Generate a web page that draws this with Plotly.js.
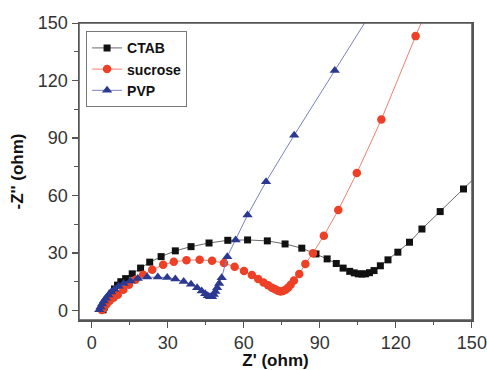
<!DOCTYPE html>
<html>
<head>
<meta charset="utf-8">
<script src="https://cdn.plot.ly/plotly-3.0.1.min.js"></script>
<style>html,body{margin:0;padding:0;background:#fff;}#chart{width:487px;height:370px;}</style>
</head>
<body>
<div id="chart"></div>
<script>
// CTAB series
const ctabX = [4.5, 5, 5.6, 6.3, 7.1, 8, 9, 10.2, 11.5, 13.4, 16, 19.3, 22.9, 27.4, 33, 39.2, 46.3, 53.7, 61.5, 69.3, 76.3, 82.9, 88.5, 92.9, 96.5, 99.2, 101.8, 103.6, 105.2, 106.6, 108, 109.6, 111.4, 113.9, 116.9, 120.8, 125.4, 130.3, 137.5, 146.7, 158];
const ctabY = [0.3, 1.8, 3.4, 5.1, 7, 9, 11.2, 13.2, 15, 16.6, 19.1, 22.1, 25.2, 28.1, 31.1, 33.3, 35.2, 36.6, 36.8, 36.3, 34.7, 32.5, 29.5, 26.9, 24.5, 22.1, 20.4, 19.6, 19.1, 19, 19.1, 19.7, 20.8, 23.3, 26.4, 30.4, 35.6, 42.5, 51.6, 63.4, 78];
// sucrose series
const sucX = [4, 4.6, 5.3, 6.1, 7.1, 8.6, 10.3, 12.5, 14.7, 17.3, 20.3, 23.9, 28.2, 32.4, 37.4, 42.6, 47.5, 52.2, 56.4, 60.1, 63.2, 65.7, 67.8, 69.6, 71.1, 72.4, 73.5, 74.5, 75.5, 76.5, 77.5, 78.5, 79.8, 81.9, 84.3, 87.3, 91.6, 97.3, 104.6, 114.3, 127.8, 146];
const sucY = [0.2, 1.3, 2.5, 3.7, 5, 6.6, 8.2, 10.8, 13.4, 16, 18.6, 21.2, 23.8, 25.4, 26.2, 26.4, 25.9, 24.7, 22.8, 20.6, 18.5, 16.4, 14.6, 13.1, 11.9, 11, 10.3, 9.9, 10.1, 10.8, 11.9, 13.4, 15.6, 19, 24.3, 29.9, 39, 52.4, 71.7, 99.7, 143.2, 200];
// PVP series
const pvpX = [3, 3.5, 4.1, 4.8, 5.6, 6.6, 7.7, 9, 10.6, 12.6, 15.3, 18.2, 21.9, 26.1, 29.8, 33, 36.3, 39.2, 41.6, 43.4, 44.8, 45.8, 46.7, 47.5, 48.2, 48.8, 49.5, 50.3, 51.3, 53.5, 56.8, 61.5, 68.8, 79.9, 95.9, 119];
const pvpY = [0.3, 1.8, 3.3, 4.9, 6.4, 8, 9.6, 11.1, 12.6, 14, 15.3, 16.6, 17.4, 17.5, 17.2, 16.4, 15.1, 13.6, 11.9, 10.1, 8.7, 7.7, 7.1, 7.2, 8.3, 9.9, 11.9, 14.1, 17.1, 28, 36.8, 49.8, 67.2, 91.5, 125.2, 174];

const seriesNames = ['CTAB', 'sucrose', 'PVP'];
const xTicks = [0, 30, 60, 90, 120, 150];
const yTicks = [0, 30, 60, 90, 120, 150];

const traces = [
  {x: ctabX, y: ctabY, name: seriesNames[0], mode: 'lines+markers', cliponaxis: true,
   line: {color: '#6a6a6a', width: 1}, marker: {symbol: 'square', size: 7, color: '#111111'}},
  {x: sucX, y: sucY, name: seriesNames[1], mode: 'lines+markers', cliponaxis: true,
   line: {color: '#f3806e', width: 1}, marker: {symbol: 'circle', size: 8.5, color: '#ee4026'}},
  {x: pvpX, y: pvpY, name: seriesNames[2], mode: 'lines+markers', cliponaxis: true,
   line: {color: '#7a80c0', width: 1}, marker: {symbol: 'triangle-up', size: 9, color: '#2b3990'}}
];

const axisCommon = {
  showgrid: false, zeroline: false, showline: true, mirror: true,
  linecolor: '#555555', linewidth: 1.5, ticks: 'outside', ticklen: 6, tickwidth: 1.2, tickcolor: '#555555',
  tickfont: {family: 'Liberation Sans, Arial, sans-serif', size: 18, color: '#333333'},
  minor: {ticks: 'outside', dtick: 15, ticklen: 3.5, tickwidth: 1, tickcolor: '#555555'}
};

const layout = {
  width: 487, height: 370,
  margin: {l: 79, r: 15, t: 23, b: 50},
  paper_bgcolor: '#ffffff', plot_bgcolor: '#ffffff',
  showlegend: true,
  legend: {x: 0.018, y: 0.972, xanchor: 'left', yanchor: 'top',
    bordercolor: '#777777', borderwidth: 1, bgcolor: '#ffffff',
    font: {family: 'Liberation Sans, Arial, sans-serif', size: 14, color: '#111111', weight: 'bold'},
    itemwidth: 30, tracegroupgap: 0},
  shapes: [{type: 'rect', xref: 'paper', yref: 'paper', x0: 0, x1: 1, y0: 0, y1: 1,
    line: {color: '#555555', width: 1.5}, fillcolor: 'rgba(0,0,0,0)', layer: 'above'}],
  xaxis: Object.assign({}, axisCommon, {
    range: [-5, 150.05],
    tickvals: xTicks, ticktext: xTicks.map(String),
    title: {text: "Z' (ohm)", standoff: 6, font: {family: 'Liberation Sans, Arial, sans-serif', size: 17, color: '#111111', weight: 'bold'}}
  }),
  yaxis: Object.assign({}, axisCommon, {
    range: [-5, 150.05],
    tickvals: yTicks, ticktext: yTicks.map(String),
    title: {text: "-Z'' (ohm)", standoff: 10, font: {family: 'Liberation Sans, Arial, sans-serif', size: 17, color: '#111111', weight: 'bold'}}
  })
};

Plotly.newPlot('chart', traces, layout, {staticPlot: true, displayModeBar: false});
</script>
</body>
</html>
